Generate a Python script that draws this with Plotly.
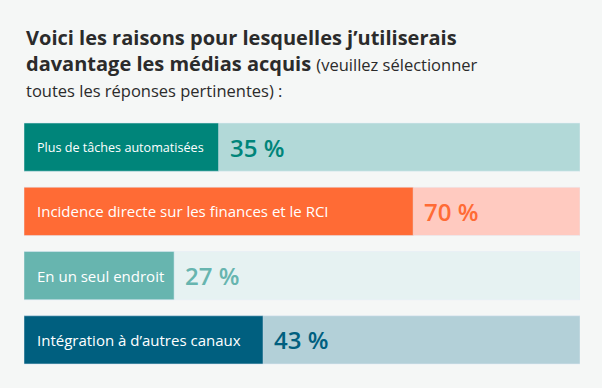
import plotly.graph_objects as go

categories = ["Plus de tâches automatisées",
              "Incidence directe sur les finances et le RCI",
              "En un seul endroit",
              "Intégration à d’autres canaux"]
values = [35, 70, 27, 43]
value_labels = ["35 %", "70 %", "27 %", "43 %"]
label_sizes = [12.6, 15, 15, 15]
dark_colors = ["#00857A", "#FF6B35", "#67B5AF", "#005F7F"]
light_colors = ["#B2D9D8", "#FFCAC0", "#E6F2F2", "#B3D0D8"]
total = [100, 100, 100, 100]

W, H = 602, 388
mt, mb, ml, mr = 115, 16, 24, 22
FONT = "Open Sans"

fig = go.Figure()
fig.add_trace(go.Bar(y=categories, x=total, orientation="h", marker_color=light_colors,
                     width=0.75, hoverinfo="skip"))
fig.add_trace(go.Bar(y=categories, x=values, orientation="h", marker_color=dark_colors,
                     width=0.75, hoverinfo="skip"))

ann = []
for c, v, lab, s, col in zip(categories, values, value_labels, label_sizes, dark_colors):
    ann.append(dict(x=0, y=c, xref="x", yref="y", text=c, showarrow=False, xanchor="left",
                    xshift=11, font=dict(family=FONT, size=s, color="white")))
    ann.append(dict(x=v, y=c, xref="x", yref="y", text=lab, showarrow=False, xanchor="left",
                    xshift=9, font=dict(family=FONT, size=24, color=col, weight=600)))

ph = H - mt - mb
def py(p):
    return (H - mb - p) / ph

title_lines = [
    ("<b>Voici les raisons pour lesquelles j’utiliserais</b>", 53, 20),
    ("<b>davantage les médias acquis</b> <span style='font-size:16.5px'>(veuillez sélectionner</span>", 79, 20),
    ("toutes les réponses pertinentes) :", 104, 16.5),
]
for t, base, s in title_lines:
    ann.append(dict(x=0, y=py(base), xref="paper", yref="paper", text=t, showarrow=False,
                    xanchor="left", yanchor="bottom",
                    font=dict(family=FONT, size=s, color="#2B2B2B")))

fig.update_layout(
    width=W, height=H, barmode="overlay", showlegend=False,
    margin=dict(l=ml, r=mr, t=mt, b=mb),
    paper_bgcolor="#F5F7F6", plot_bgcolor="#F5F7F6",
    xaxis=dict(range=[0, 100], visible=False, fixedrange=True),
    yaxis=dict(autorange=False, range=[3.5, -0.5], visible=False, fixedrange=True),
    annotations=ann,
)
fig.write_html("out.html", config={"displayModeBar": False},
               post_script="document.body.style.margin='0';document.body.style.overflow='hidden';")
